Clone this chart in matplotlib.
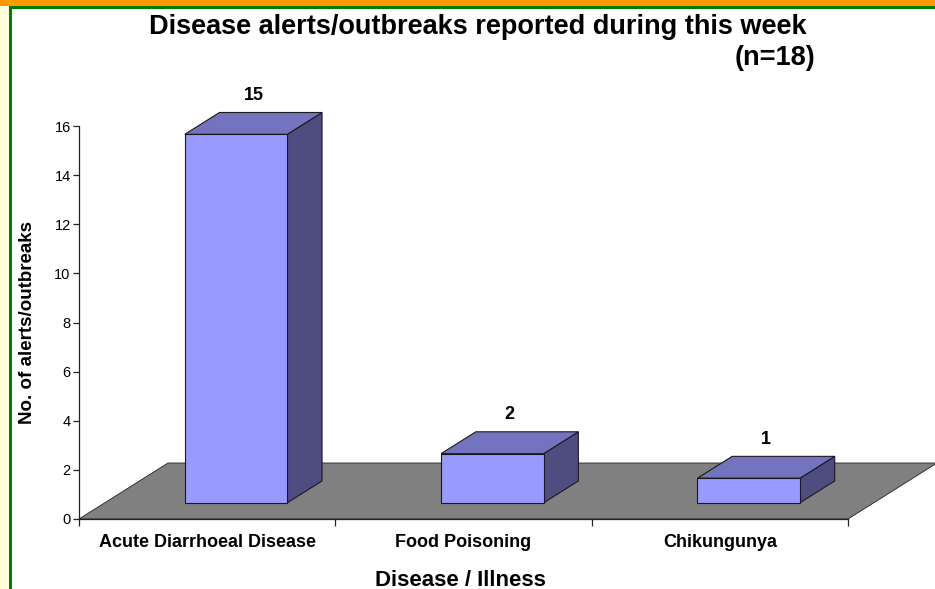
import matplotlib
matplotlib.use("Agg")
import matplotlib.pyplot as plt
from matplotlib.patches import Polygon, Rectangle

plt.rcParams["font.family"] = ["Liberation Sans", "DejaVu Sans"]

categories = ["Acute Diarrhoeal Disease", "Food Poisoning", "Chikungunya"]
counts = [15, 2, 1]
title = "Disease alerts/outbreaks reported during this week"
subtitle = "(n=18)"
y_ticks = [0, 2, 4, 6, 8, 10, 12, 14, 16]

W, H = 935, 589
fig = plt.figure(figsize=(W / 100, H / 100), dpi=100)


def fx(px):
    return px / W


def fy(py):
    return 1 - py / H


# page frame (orange/green bands, pale strip on the left)
fig.add_artist(Rectangle((0, fy(589)), fx(8.5), fy(6) - fy(589), transform=fig.transFigure,
                         color="#FFFFDC", lw=0))
fig.add_artist(Rectangle((0, fy(6)), 1, fy(0) - fy(6), transform=fig.transFigure,
                         color="#FF9900", lw=0))
fig.add_artist(Rectangle((fx(8.5), fy(9)), 1, fy(6) - fy(9), transform=fig.transFigure,
                         color="#008000", lw=0))
fig.add_artist(Rectangle((fx(8.5), fy(589)), fx(3.3), fy(6) - fy(589), transform=fig.transFigure,
                         color="#008000", lw=0))

ax = fig.add_axes([fx(79), fy(519), fx(848) - fx(79), fy(126) - fy(519)])
ax.set_xlim(0, 3)
ax.set_ylim(0, 16)
ax.patch.set_alpha(0)

# depth of the floor in data units
px_x = (848 - 79) / 3.0
px_y = (519 - 126) / 16.0
ddx = 89 / px_x
ddy = 56 / px_y

floor = Polygon([(0, 0), (3, 0), (3 + ddx, ddy), (ddx, ddy)], closed=True,
                facecolor="#808080", edgecolor="#222222", lw=0.6, clip_on=False, zorder=1)
ax.add_patch(floor)

f_front, f_back = 0.29, 0.68
bw = 0.40
for i, v in enumerate(counts):
    x0 = i + 0.5 - bw / 2 + f_front * ddx + 0.012
    y0 = f_front * ddy
    x1, y1 = x0 + bw, y0 + v
    ox = (f_back - f_front) * ddx
    oy = (f_back - f_front) * ddy
    front = [(x0, y0), (x1, y0), (x1, y1), (x0, y1)]
    top = [(x0, y1), (x1, y1), (x1 + ox, y1 + oy), (x0 + ox, y1 + oy)]
    side = [(x1, y0), (x1 + ox, y0 + oy), (x1 + ox, y1 + oy), (x1, y1)]
    for pts, c in [(side, "#4D4D80"), (top, "#7373BF"), (front, "#9999FF")]:
        ax.add_patch(Polygon(pts, closed=True, facecolor=c, edgecolor="#1a1a1a",
                             lw=0.8, clip_on=False, zorder=3))
    ax.annotate(str(v), ((x0 + x1) / 2 + ox / 2, y1 + oy), xytext=(0, 6),
                textcoords="offset points", ha="center", va="bottom",
                fontsize=13, fontweight="bold", zorder=4, annotation_clip=False)

for s in ["top", "right"]:
    ax.spines[s].set_visible(False)
for s in ["left", "bottom"]:
    ax.spines[s].set_color("#222222")
    ax.spines[s].set_linewidth(0.9)
    ax.spines[s].set_zorder(5)

ax.set_yticks(y_ticks)
ax.tick_params(axis="y", length=4, width=0.9, pad=2, labelsize=10.5, color="#222222")
ax.set_xticks([0.5, 1.5, 2.5])
ax.set_xticklabels(categories, fontsize=13, fontweight="bold")
ax.set_xticks([0, 1, 2, 3], minor=True)
ax.tick_params(axis="x", which="major", length=0, pad=10.5)
ax.tick_params(axis="x", which="minor", length=5, width=0.9, color="#222222")

fig.text(fx(478), fy(27), title, ha="center", va="center", fontsize=19.5, fontweight="bold")
fig.text(fx(815), fy(58), subtitle, ha="right", va="center", fontsize=19.5, fontweight="bold")
fig.text(fx(460), fy(580), "Disease / Illness", ha="center", va="center",
         fontsize=16, fontweight="bold")
fig.text(fx(28), fy(322), "No. of alerts/outbreaks", ha="center", va="center",
         rotation=90, fontsize=13.5, fontweight="bold")

fig.savefig("out.png", dpi=100)
